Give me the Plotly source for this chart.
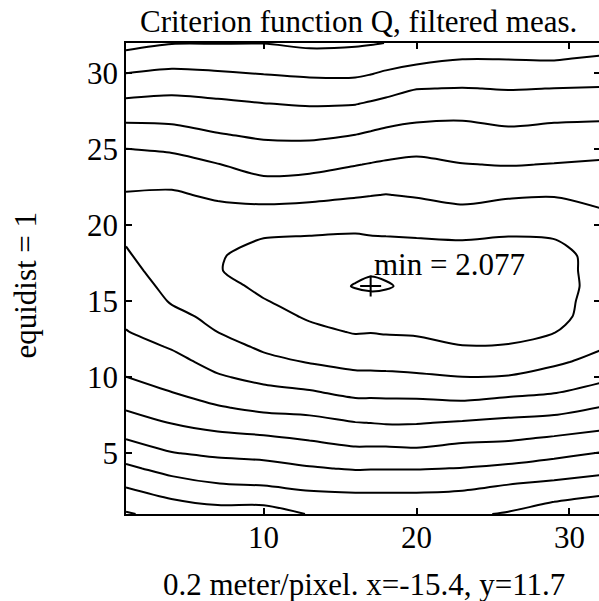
import numpy as np
import plotly.graph_objects as go

# Grid sample positions (pixel index) of the criterion function
x_cols = [1, 4, 7, 10, 13, 16, 17, 18, 20, 23, 26, 29, 32]
y_rows = list(range(1, 33))

# Criterion value Q along each sampled column, from y=1 (bottom) to y=32 (top)
q_x01 = [11.59, 10.97, 10.34, 9.68, 9.06, 8.45, 7.92, 7.41, 6.96, 6.51, 6.18, 5.86, 5.53, 5.34, 5.15, 4.97,
         4.79, 4.61, 4.43, 4.28, 4.28, 4.44, 4.73, 5.10, 5.48, 6.05, 6.65, 7.28, 7.89, 8.49, 9.15, 9.81]
q_x04 = [11.16, 10.49, 9.82, 9.17, 8.54, 8.00, 7.47, 6.99, 6.51, 6.15, 5.79, 5.43, 5.08, 4.73, 4.43, 4.24,
         4.04, 3.85, 3.84, 4.03, 4.21, 4.40, 4.70, 5.15, 5.61, 6.15, 6.69, 7.20, 7.74, 8.31, 8.92, 9.54]
q_x07 = [10.91, 10.21, 9.51, 8.92, 8.33, 7.75, 7.16, 6.58, 6.08, 5.60, 5.21, 4.86, 4.49, 4.27, 4.03, 3.80,
         3.56, 3.56, 3.81, 4.07, 4.32, 4.62, 5.04, 5.47, 5.96, 6.46, 6.90, 7.33, 7.85, 8.41, 8.97, 9.53]
q_x10 = [10.96, 10.16, 9.40, 8.82, 8.23, 7.63, 6.94, 6.30, 5.77, 5.26, 4.75, 4.36, 4.09, 3.82, 3.55, 3.30,
         3.05, 3.25, 3.44, 3.83, 4.30, 4.82, 5.39, 5.83, 6.24, 6.65, 7.06, 7.48, 8.01, 8.53, 9.03, 9.52]
q_x13 = [10.45, 9.83, 9.20, 8.58, 7.99, 7.40, 6.80, 6.19, 5.59, 5.01, 4.46, 4.09, 3.71, 3.40, 3.18, 2.96,
         2.96, 3.17, 3.39, 3.74, 4.23, 4.75, 5.31, 5.79, 6.24, 6.68, 7.12, 7.57, 8.11, 8.64, 9.16, 9.68]
q_x16 = [10.30, 9.75, 9.13, 8.43, 7.78, 7.14, 6.53, 5.89, 5.28, 4.72, 4.25, 3.83, 3.44, 3.12, 2.80, 2.45,
         2.70, 3.01, 3.33, 3.70, 4.14, 4.58, 5.06, 5.54, 6.03, 6.52, 7.02, 7.53, 8.10, 8.65, 9.13, 9.62]
q_x17 = [10.30, 9.75, 9.13, 8.45, 7.79, 7.14, 6.49, 5.87, 5.28, 4.71, 4.23, 3.79, 3.47, 3.39, 3.30, 2.077,
         2.75, 3.06, 3.38, 3.74, 4.13, 4.53, 4.99, 5.45, 5.92, 6.40, 6.91, 7.41, 7.97, 8.54, 9.05, 9.57]
q_x18 = [10.30, 9.75, 9.13, 8.45, 7.80, 7.12, 6.44, 5.85, 5.27, 4.70, 4.21, 3.75, 3.44, 3.32, 3.20, 2.30,
         2.90, 3.16, 3.41, 3.74, 4.11, 4.48, 4.92, 5.37, 5.83, 6.29, 6.77, 7.28, 7.82, 8.39, 8.94, 9.49]
q_x20 = [10.30, 9.75, 9.13, 8.45, 7.74, 7.08, 6.45, 5.86, 5.25, 4.64, 4.15, 3.71, 3.41, 3.25, 3.18, 3.10,
         3.15, 3.20, 3.44, 3.80, 4.18, 4.57, 4.93, 5.29, 5.69, 6.15, 6.61, 7.06, 7.52, 8.14, 8.76, 9.40]
q_x23 = [10.35, 9.82, 9.22, 8.53, 7.92, 7.29, 6.59, 5.81, 5.13, 4.52, 4.02, 3.52, 3.33, 3.15, 3.13, 3.10,
         3.15, 3.20, 3.49, 3.93, 4.36, 4.74, 5.11, 5.47, 5.83, 6.18, 6.54, 7.00, 7.47, 8.00, 8.54, 9.15]
q_x26 = [10.58, 10.06, 9.46, 8.69, 8.02, 7.37, 6.74, 6.03, 5.28, 4.56, 4.04, 3.54, 3.33, 3.15, 3.13, 3.10,
         3.13, 3.15, 3.41, 3.76, 4.18, 4.61, 5.08, 5.54, 5.92, 6.30, 6.70, 7.12, 7.54, 8.04, 8.54, 9.10]
q_x29 = [11.06, 10.36, 9.66, 8.95, 8.25, 7.59, 6.87, 6.15, 5.46, 4.89, 4.35, 3.89, 3.46, 3.20, 3.15, 3.10,
         3.13, 3.15, 3.46, 3.82, 4.18, 4.55, 5.01, 5.47, 5.84, 6.21, 6.60, 7.05, 7.49, 8.03, 8.58, 9.20]
q_x32 = [11.41, 10.65, 9.89, 9.19, 8.54, 7.82, 7.16, 6.53, 5.87, 5.28, 4.79, 4.41, 4.18, 3.95, 3.89, 3.82,
         3.84, 3.85, 4.05, 4.26, 4.46, 4.75, 5.07, 5.39, 5.76, 6.16, 6.56, 7.00, 7.45, 7.92, 8.40, 9.00]

x_ticks = [10, 20, 30]
y_ticks = [5, 10, 15, 20, 25, 30]

level_start, level_end, equidist = 2.5, 11.5, 1

title_text = "Criterion function Q, filtered meas."
xlabel_text = "0.2 meter/pixel. x=-15.4, y=11.7"
ylabel_text = f"equidist = {equidist}"

# z[row][col] with rows along y and columns along x
z = np.array([q_x01, q_x04, q_x07, q_x10, q_x13, q_x16, q_x17, q_x18,
              q_x20, q_x23, q_x26, q_x29, q_x32]).T

# location of the minimum
iy, ix = np.unravel_index(np.argmin(z), z.shape)
x_min, y_min, q_min = x_cols[ix], y_rows[iy], z[iy, ix]

FONT = "Liberation Serif"
FS = 31

fig = go.Figure()
fig.add_trace(go.Contour(
    x=x_cols, y=y_rows, z=z,
    contours=dict(coloring="none", start=level_start, end=level_end, size=equidist),
    line=dict(color="black", width=2, smoothing=0.8),
    showscale=False, hoverinfo="skip",
))
fig.add_trace(go.Scatter(
    x=[x_min], y=[y_min], mode="markers",
    marker=dict(symbol="cross-thin", size=15, line=dict(color="black", width=2)),
    hoverinfo="skip", showlegend=False,
))

axis_common = dict(
    showgrid=False, zeroline=False, showline=True, mirror="ticks",
    linecolor="black", linewidth=1.5, ticks="inside", ticklen=6, tickwidth=1.5,
    tickcolor="black", tickfont=dict(family=FONT, size=FS, color="black"),
)
fig.update_xaxes(range=[1, 32], tickvals=x_ticks, ticklabelstandoff=-5, **axis_common)
fig.update_yaxes(range=[1, 32], tickvals=y_ticks, **axis_common)

fig.update_layout(
    width=602, height=601,
    margin=dict(l=126, r=0, t=43, b=87),
    paper_bgcolor="white", plot_bgcolor="white",
    showlegend=False,
    annotations=[
        dict(text=title_text, xref="paper", yref="paper", x=0.4895, y=1.045,
             xanchor="center", yanchor="middle", showarrow=False,
             font=dict(family=FONT, size=FS, color="black")),
        dict(text=xlabel_text, xref="paper", yref="paper", x=0.503, y=-0.1505,
             xanchor="center", yanchor="middle", showarrow=False,
             font=dict(family=FONT, size=FS, color="black")),
        dict(text=ylabel_text, xref="paper", yref="paper", x=-0.212, y=0.486,
             xanchor="center", yanchor="middle", textangle=-90, showarrow=False,
             font=dict(family=FONT, size=FS, color="black")),
        dict(text=f"min = {q_min:.3f}", xref="x", yref="y", x=x_min + 0.1, y=y_min + 1.4,
             xanchor="left", yanchor="middle", showarrow=False,
             font=dict(family=FONT, size=FS, color="black")),
    ],
)

fig.write_html(
    "out.html",
    config={"displayModeBar": False},
    post_script="document.body.style.margin='0';document.body.style.overflow='hidden';"
                "document.documentElement.style.overflow='hidden';",
)
